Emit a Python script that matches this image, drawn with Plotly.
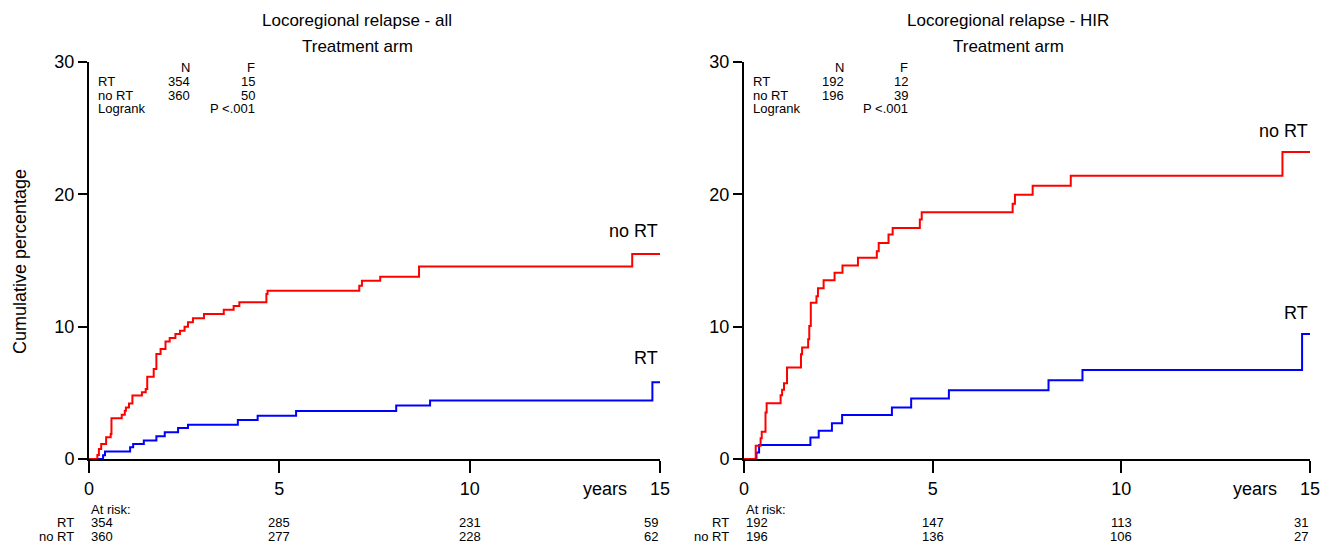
import plotly.graph_objects as go

FONT = "Liberation Sans, Arial, sans-serif"

# ---------------- data ----------------
title_line1 = ["Locoregional relapse - all", "Locoregional relapse - HIR"]
title_line2 = ["Treatment arm", "Treatment arm"]
groups = ["RT", "no RT"]
group_colors = ["#0000FF", "#FF0000"]
x_ticks = [0, 5, 10, 15]
y_ticks = [0, 10, 20, 30]

# Panel 1 (all)
all_rt_t = [0, 0.37, 0.42, 1.08, 1.16, 1.44, 1.77, 1.99, 2.34, 2.60, 3.91, 4.43, 5.44, 8.07, 8.96, 14.8, 15.0]
all_rt_y = [0, 0.28, 0.56, 0.88, 1.13, 1.39, 1.71, 2.02, 2.34, 2.59, 2.95, 3.27, 3.63, 4.04, 4.42, 5.8, 5.8]
all_nort_t = [0, 0.22, 0.26, 0.32, 0.45, 0.57, 0.59, 0.86, 0.94, 0.97, 1.05, 1.14, 1.39, 1.49, 1.53, 1.70,
              1.77, 1.88, 2.01, 2.12, 2.27, 2.39, 2.51, 2.60, 2.73, 3.02, 3.54, 3.80, 3.95, 4.66, 4.69,
              7.10, 7.17, 7.65, 8.67, 14.27, 15.0]
all_nort_y = [0, 0.3, 0.76, 1.13, 1.64, 1.89, 3.07, 3.35, 3.65, 3.9, 4.2, 4.79, 5.04, 5.29, 6.22, 6.8,
              7.93, 8.31, 8.87, 9.14, 9.45, 9.7, 10.0, 10.33, 10.63, 10.96, 11.28, 11.56, 11.84, 12.47, 12.72,
              13.1, 13.47, 13.77, 14.55, 15.49, 15.49]

# Panel 2 (HIR)
hir_rt_t = [0, 0.33, 0.40, 1.76, 1.98, 2.33, 2.60, 3.92, 4.43, 5.43, 8.07, 8.97, 14.79, 15.0]
hir_rt_y = [0, 0.5, 1.05, 1.63, 2.14, 2.71, 3.32, 3.89, 4.57, 5.2, 5.95, 6.73, 9.45, 9.45]
hir_nort_t = [0, 0.31, 0.44, 0.47, 0.57, 0.60, 0.97, 1.01, 1.06, 1.14, 1.51, 1.54, 1.70, 1.73, 1.77,
              1.92, 1.96, 2.11, 2.40, 2.61, 3.02, 3.52, 3.57, 3.83, 3.94, 4.66, 4.71, 7.12, 7.18, 7.65,
              8.66, 14.27, 15.0]
hir_nort_y = [0, 1.0, 1.56, 2.06, 3.52, 4.22, 4.82, 5.23, 5.73, 6.91, 7.91, 8.42, 9.05, 10.05, 11.8,
              12.3, 12.9, 13.5, 14.07, 14.62, 15.2, 15.7, 16.33, 16.96, 17.46, 18.09, 18.64, 19.29, 19.97, 20.65,
              21.4, 23.2, 23.2]

# summary tables
all_N = [354, 360]
all_F = [15, 50]
hir_N = [192, 196]
hir_F = [12, 39]
pvalue_text = "P <.001"

# numbers at risk at 0, 5, 10, 15 years
risk_times = [0, 5, 10, 15]
all_risk_rt = [354, 285, 231, 59]
all_risk_nort = [360, 277, 228, 62]
hir_risk_rt = [192, 147, 113, 31]
hir_risk_nort = [196, 136, 106, 27]

# curve label heights
all_label_y = [7.6, 17.2]
hir_label_y = [11.0, 24.8]

panels = [
    dict(curves=[(all_rt_t, all_rt_y), (all_nort_t, all_nort_y)], N=all_N, F=all_F,
         risk=[all_risk_rt, all_risk_nort], label_y=all_label_y),
    dict(curves=[(hir_rt_t, hir_rt_y), (hir_nort_t, hir_nort_y)], N=hir_N, F=hir_F,
         risk=[hir_risk_rt, hir_risk_nort], label_y=hir_label_y),
]

# ---------------- figure ----------------
# the page body has a default 8px margin, so the figure is placed at (8, 8) on screen
OFF = 8
SW, SH = 1336, 548
W, H = SW - OFF, SH - OFF


def paper_x(px):
    return (px - OFF) / W


def paper_y(py):
    return 1 - (py - OFF) / H


x_px = [(89, 660), (744, 1310)]
x_domains = [[paper_x(a), paper_x(b)] for a, b in x_px]
y_domain = [paper_y(459), paper_y(62)]
title_centers = [357, 1008]
risk_label_right = [76, 731]

fig = go.Figure()
annotations = []

for i, p in enumerate(panels):
    xa = "x" if i == 0 else "x2"
    ya = "y" if i == 0 else "y2"
    for g, (t, y) in enumerate(p["curves"]):
        fig.add_trace(go.Scatter(x=t, y=y, mode="lines", line=dict(color=group_colors[g], width=2, shape="hv"),
                                 xaxis=xa, yaxis=ya, showlegend=False, hoverinfo="skip"))
    # curve end labels
    for g in range(2):
        annotations.append(dict(x=15, y=p["label_y"][g], xref=xa, yref=ya, text=groups[g], showarrow=False,
                                xanchor="right", yanchor="middle", font=dict(size=18, color="black", family=FONT)))
    # table
    tfont = dict(size=13, color="black", family=FONT)
    rows_y = [29.6, 28.55, 27.5, 26.45]
    annotations.append(dict(x=2.7, y=rows_y[0], xref=xa, yref=ya, text="N", showarrow=False,
                            xanchor="right", yanchor="middle", font=tfont))
    annotations.append(dict(x=4.41, y=rows_y[0], xref=xa, yref=ya, text="F", showarrow=False,
                            xanchor="right", yanchor="middle", font=tfont))
    for g in range(2):
        annotations.append(dict(x=0.18, y=rows_y[g + 1], xref=xa, yref=ya, text=groups[g], showarrow=False,
                                xanchor="left", yanchor="middle", font=tfont))
        annotations.append(dict(x=2.7, y=rows_y[g + 1], xref=xa, yref=ya, text=str(p["N"][g]), showarrow=False,
                                xanchor="right", yanchor="middle", font=tfont))
        annotations.append(dict(x=4.41, y=rows_y[g + 1], xref=xa, yref=ya, text=str(p["F"][g]), showarrow=False,
                                xanchor="right", yanchor="middle", font=tfont))
    annotations.append(dict(x=0.18, y=rows_y[3], xref=xa, yref=ya, text="Logrank", showarrow=False,
                            xanchor="left", yanchor="middle", font=tfont))
    annotations.append(dict(x=4.41, y=rows_y[3], xref=xa, yref=ya, text=pvalue_text, showarrow=False,
                            xanchor="right", yanchor="middle", font=tfont))
    # "years" label
    annotations.append(dict(x=13.55, y=paper_y(489), xref=xa, yref="paper", text="years", showarrow=False,
                            xanchor="center", yanchor="middle", font=dict(size=18, color="black", family=FONT)))
    # At risk
    rfont = dict(size=13, color="black", family=FONT)
    annotations.append(dict(x=0, y=paper_y(509), xref=xa, yref="paper", text="At risk:", showarrow=False,
                            xanchor="left", yanchor="middle", font=rfont))
    for g, py in enumerate([522, 536]):
        annotations.append(dict(x=paper_x(risk_label_right[i]), y=paper_y(py), xref="paper", yref="paper",
                                text=groups[g], showarrow=False, xanchor="right", yanchor="middle", font=rfont))
        for k, tt in enumerate(risk_times):
            anchor = "left" if k == 0 else ("right" if k == len(risk_times) - 1 else "center")
            annotations.append(dict(x=tt, y=paper_y(py), xref=xa, yref="paper", text=str(p["risk"][g][k]),
                                    showarrow=False, xanchor=anchor, yanchor="middle", font=rfont))
    # panel title (two lines)
    for line, py in [(title_line1[i], 20), (title_line2[i], 47)]:
        annotations.append(dict(x=paper_x(title_centers[i]), y=paper_y(py), xref="paper", yref="paper",
                                text=line, showarrow=False, xanchor="center", yanchor="middle",
                                font=dict(size=17, color="black", family=FONT)))

# y axis title
annotations.append(dict(x=paper_x(20), y=paper_y(262), xref="paper", yref="paper", text="Cumulative percentage",
                        showarrow=False, textangle=-90, xanchor="center", yanchor="middle",
                        font=dict(size=18, color="black", family=FONT)))


def xaxis(dom, anchor):
    return dict(domain=dom, range=[0, 15], tickvals=x_ticks, ticks="outside", ticklen=12, tickwidth=2,
                tickcolor="black", showline=True, linewidth=2, linecolor="black", showgrid=False,
                zeroline=False, tickfont=dict(size=18, color="black", family=FONT), anchor=anchor,
                automargin=False, fixedrange=True)


def yaxis(anchor):
    return dict(domain=y_domain, range=[0, 30], tickvals=y_ticks, ticks="outside", ticklen=9, tickwidth=2,
                tickcolor="black", showline=True, linewidth=2, linecolor="black", showgrid=False,
                zeroline=False, tickfont=dict(size=18, color="black", family=FONT), anchor=anchor,
                automargin=False, fixedrange=True)


fig.update_layout(
    width=W, height=H,
    margin=dict(l=0, r=0, t=0, b=0, pad=0, autoexpand=False),
    paper_bgcolor="white", plot_bgcolor="white",
    xaxis=xaxis(x_domains[0], "y"),
    yaxis=yaxis("x"),
    xaxis2=xaxis(x_domains[1], "y2"),
    yaxis2=yaxis("x2"),
    annotations=annotations,
    font=dict(family=FONT, color="black"),
    showlegend=False,
)

fig.write_html("out.html", config={"displayModeBar": False})
